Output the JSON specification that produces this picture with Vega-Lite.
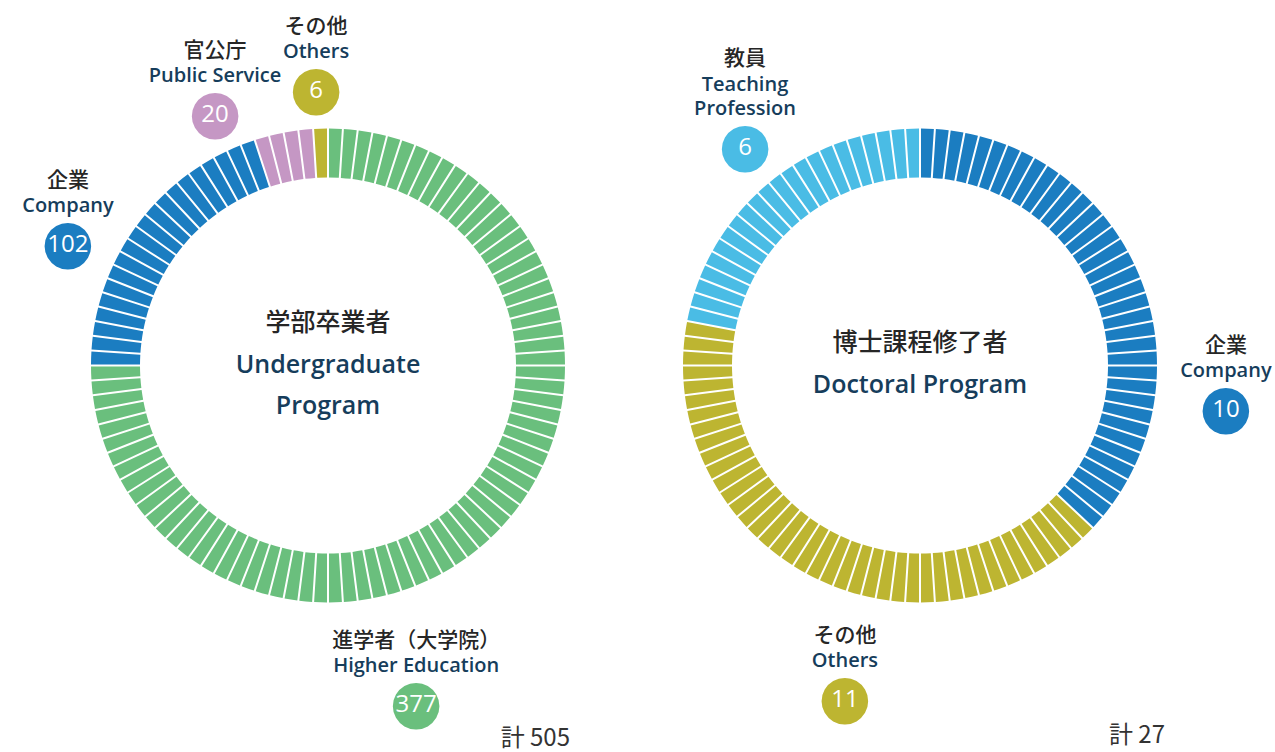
{
 "$schema": "https://vega.github.io/schema/vega-lite/v6.json",
 "padding": 0,
 "spacing": 0,
 "bounds": "flush",
 "background": "white",
 "config": {"view": {"stroke": null}, "font": "Open Sans"},
 "datasets": {
  "ug": [
   {"i":0,"c":"H","v":1},{"i":1,"c":"H","v":1},{"i":2,"c":"H","v":1},{"i":3,"c":"H","v":1},{"i":4,"c":"H","v":1},{"i":5,"c":"H","v":1},{"i":6,"c":"H","v":1},{"i":7,"c":"H","v":1},{"i":8,"c":"H","v":1},{"i":9,"c":"H","v":1},
   {"i":10,"c":"H","v":1},{"i":11,"c":"H","v":1},{"i":12,"c":"H","v":1},{"i":13,"c":"H","v":1},{"i":14,"c":"H","v":1},{"i":15,"c":"H","v":1},{"i":16,"c":"H","v":1},{"i":17,"c":"H","v":1},{"i":18,"c":"H","v":1},{"i":19,"c":"H","v":1},
   {"i":20,"c":"H","v":1},{"i":21,"c":"H","v":1},{"i":22,"c":"H","v":1},{"i":23,"c":"H","v":1},{"i":24,"c":"H","v":1},{"i":25,"c":"H","v":1},{"i":26,"c":"H","v":1},{"i":27,"c":"H","v":1},{"i":28,"c":"H","v":1},{"i":29,"c":"H","v":1},
   {"i":30,"c":"H","v":1},{"i":31,"c":"H","v":1},{"i":32,"c":"H","v":1},{"i":33,"c":"H","v":1},{"i":34,"c":"H","v":1},{"i":35,"c":"H","v":1},{"i":36,"c":"H","v":1},{"i":37,"c":"H","v":1},{"i":38,"c":"H","v":1},{"i":39,"c":"H","v":1},
   {"i":40,"c":"H","v":1},{"i":41,"c":"H","v":1},{"i":42,"c":"H","v":1},{"i":43,"c":"H","v":1},{"i":44,"c":"H","v":1},{"i":45,"c":"H","v":1},{"i":46,"c":"H","v":1},{"i":47,"c":"H","v":1},{"i":48,"c":"H","v":1},{"i":49,"c":"H","v":1},
   {"i":50,"c":"H","v":1},{"i":51,"c":"H","v":1},{"i":52,"c":"H","v":1},{"i":53,"c":"H","v":1},{"i":54,"c":"H","v":1},{"i":55,"c":"H","v":1},{"i":56,"c":"H","v":1},{"i":57,"c":"H","v":1},{"i":58,"c":"H","v":1},{"i":59,"c":"H","v":1},
   {"i":60,"c":"H","v":1},{"i":61,"c":"H","v":1},{"i":62,"c":"H","v":1},{"i":63,"c":"H","v":1},{"i":64,"c":"H","v":1},{"i":65,"c":"H","v":1},{"i":66,"c":"H","v":1},{"i":67,"c":"H","v":1},{"i":68,"c":"H","v":1},{"i":69,"c":"H","v":1},
   {"i":70,"c":"H","v":1},{"i":71,"c":"H","v":1},{"i":72,"c":"H","v":1},{"i":73,"c":"H","v":1},{"i":74,"c":"H","v":1},{"i":75,"c":"C","v":1},{"i":76,"c":"C","v":1},{"i":77,"c":"C","v":1},{"i":78,"c":"C","v":1},{"i":79,"c":"C","v":1},
   {"i":80,"c":"C","v":1},{"i":81,"c":"C","v":1},{"i":82,"c":"C","v":1},{"i":83,"c":"C","v":1},{"i":84,"c":"C","v":1},{"i":85,"c":"C","v":1},{"i":86,"c":"C","v":1},{"i":87,"c":"C","v":1},{"i":88,"c":"C","v":1},{"i":89,"c":"C","v":1},
   {"i":90,"c":"C","v":1},{"i":91,"c":"C","v":1},{"i":92,"c":"C","v":1},{"i":93,"c":"C","v":1},{"i":94,"c":"C","v":1},{"i":95,"c":"P","v":1},{"i":96,"c":"P","v":1},{"i":97,"c":"P","v":1},{"i":98,"c":"P","v":1},{"i":99,"c":"O","v":1}
  ],
  "dr": [
   {"i":0,"c":"C","v":1},{"i":1,"c":"C","v":1},{"i":2,"c":"C","v":1},{"i":3,"c":"C","v":1},{"i":4,"c":"C","v":1},{"i":5,"c":"C","v":1},{"i":6,"c":"C","v":1},{"i":7,"c":"C","v":1},{"i":8,"c":"C","v":1},{"i":9,"c":"C","v":1},
   {"i":10,"c":"C","v":1},{"i":11,"c":"C","v":1},{"i":12,"c":"C","v":1},{"i":13,"c":"C","v":1},{"i":14,"c":"C","v":1},{"i":15,"c":"C","v":1},{"i":16,"c":"C","v":1},{"i":17,"c":"C","v":1},{"i":18,"c":"C","v":1},{"i":19,"c":"C","v":1},
   {"i":20,"c":"C","v":1},{"i":21,"c":"C","v":1},{"i":22,"c":"C","v":1},{"i":23,"c":"C","v":1},{"i":24,"c":"C","v":1},{"i":25,"c":"C","v":1},{"i":26,"c":"C","v":1},{"i":27,"c":"C","v":1},{"i":28,"c":"C","v":1},{"i":29,"c":"C","v":1},
   {"i":30,"c":"C","v":1},{"i":31,"c":"C","v":1},{"i":32,"c":"C","v":1},{"i":33,"c":"C","v":1},{"i":34,"c":"C","v":1},{"i":35,"c":"C","v":1},{"i":36,"c":"C","v":1},{"i":37,"c":"O","v":1},{"i":38,"c":"O","v":1},{"i":39,"c":"O","v":1},
   {"i":40,"c":"O","v":1},{"i":41,"c":"O","v":1},{"i":42,"c":"O","v":1},{"i":43,"c":"O","v":1},{"i":44,"c":"O","v":1},{"i":45,"c":"O","v":1},{"i":46,"c":"O","v":1},{"i":47,"c":"O","v":1},{"i":48,"c":"O","v":1},{"i":49,"c":"O","v":1},
   {"i":50,"c":"O","v":1},{"i":51,"c":"O","v":1},{"i":52,"c":"O","v":1},{"i":53,"c":"O","v":1},{"i":54,"c":"O","v":1},{"i":55,"c":"O","v":1},{"i":56,"c":"O","v":1},{"i":57,"c":"O","v":1},{"i":58,"c":"O","v":1},{"i":59,"c":"O","v":1},
   {"i":60,"c":"O","v":1},{"i":61,"c":"O","v":1},{"i":62,"c":"O","v":1},{"i":63,"c":"O","v":1},{"i":64,"c":"O","v":1},{"i":65,"c":"O","v":1},{"i":66,"c":"O","v":1},{"i":67,"c":"O","v":1},{"i":68,"c":"O","v":1},{"i":69,"c":"O","v":1},
   {"i":70,"c":"O","v":1},{"i":71,"c":"O","v":1},{"i":72,"c":"O","v":1},{"i":73,"c":"O","v":1},{"i":74,"c":"O","v":1},{"i":75,"c":"O","v":1},{"i":76,"c":"O","v":1},{"i":77,"c":"O","v":1},{"i":78,"c":"T","v":1},{"i":79,"c":"T","v":1},
   {"i":80,"c":"T","v":1},{"i":81,"c":"T","v":1},{"i":82,"c":"T","v":1},{"i":83,"c":"T","v":1},{"i":84,"c":"T","v":1},{"i":85,"c":"T","v":1},{"i":86,"c":"T","v":1},{"i":87,"c":"T","v":1},{"i":88,"c":"T","v":1},{"i":89,"c":"T","v":1},
   {"i":90,"c":"T","v":1},{"i":91,"c":"T","v":1},{"i":92,"c":"T","v":1},{"i":93,"c":"T","v":1},{"i":94,"c":"T","v":1},{"i":95,"c":"T","v":1},{"i":96,"c":"T","v":1},{"i":97,"c":"T","v":1},{"i":98,"c":"T","v":1},{"i":99,"c":"T","v":1}
  ],
  "ugl": [
   {"c":"H","jp":"進学者（大学院）","e2":"Higher Education","n":377,"t":45.94,"r":1.474},
   {"c":"C","jp":"企業","e2":"Company","n":102,"t":81.98,"r":1.212},
   {"c":"P","jp":"官公庁","e2":"Public Service","n":20,"t":93.29,"r":1.165},
   {"c":"O","jp":"その他","e2":"Others","n":6,"t":99.31,"r":1.162}
  ],
  "drl": [
   {"c":"C","jp":"企業","e2":"Company","n":10,"t":27.27,"r":1.304},
   {"c":"O","jp":"その他","e2":"Others","n":11,"t":53.52,"r":1.444},
   {"c":"T","jp":"教員","e1":"Teaching","e2":"Profession","n":6,"t":89.24,"r":1.18}
  ]
 },
 "hconcat": [
  {
   "width": 656, "height": 731,
   "title": {"text": "計 505", "orient": "bottom", "anchor": "end", "frame": "group", "dx": -86, "offset": -7, "fontSize": 24, "font": "Noto Sans CJK JP", "fontWeight": "normal", "color": "#333333"},
   "layer": [
    {"data": {"name": "ug"},
     "mark": {"type": "arc", "innerRadius": 188, "outerRadius": 237, "padAngle": 0.0066},
     "encoding": {
      "theta": {"field": "v", "type": "quantitative", "stack": true, "scale": {"domain": [0, 100]}},
      "order": {"field": "i", "type": "quantitative"},
      "detail": {"field": "i", "type": "nominal"},
      "color": {"field": "c", "type": "nominal", "scale": {"domain": ["H","C","P","O","T"], "range": ["#6abf7d","#1b7dc1","#c597c4","#bdb531","#4abce5"]}, "legend": null}
     }},
    {"data": {"name": "ugl"},
     "mark": {"type": "text", "text": "●", "font": "DejaVu Sans", "fontSize": 61, "baseline": "middle", "align": "center", "dy": 0},
     "encoding": {
      "theta": {"field": "t", "type": "quantitative", "stack": null, "scale": {"domain": [0, 100]}},
      "radius": {"field": "r", "type": "quantitative", "scale": {"type": "linear", "domain": [0, 1], "range": [0, 237], "zero": true}},
      "color": {"field": "c", "type": "nominal", "legend": null}
     }},
    {"data": {"name": "ugl"},
     "mark": {"type": "text", "font": "Open Sans", "fontSize": 24, "fill": "white", "baseline": "middle", "align": "center", "dy": 1},
     "encoding": {
      "theta": {"field": "t", "type": "quantitative", "stack": null, "scale": {"domain": [0, 100]}},
      "radius": {"field": "r", "type": "quantitative", "scale": {"type": "linear", "domain": [0, 1], "range": [0, 237], "zero": true}},
      "text": {"field": "n", "type": "quantitative"}
     }},
    {"data": {"name": "ugl"},
     "mark": {"type": "text", "font": "Open Sans", "fontWeight": 600, "fontSize": 20, "fill": "#163d5b", "baseline": "middle", "align": "center", "dy": -38},
     "encoding": {
      "theta": {"field": "t", "type": "quantitative", "stack": null, "scale": {"domain": [0, 100]}},
      "radius": {"field": "r", "type": "quantitative", "scale": {"type": "linear", "domain": [0, 1], "range": [0, 237], "zero": true}},
      "text": {"field": "e2", "type": "nominal"}
     }},
    {"data": {"name": "ugl"},
     "mark": {"type": "text", "font": "Noto Sans CJK JP", "fontWeight": 500, "fontSize": 21, "fill": "#262626", "baseline": "middle", "align": "center", "dy": -63},
     "encoding": {
      "theta": {"field": "t", "type": "quantitative", "stack": null, "scale": {"domain": [0, 100]}},
      "radius": {"field": "r", "type": "quantitative", "scale": {"type": "linear", "domain": [0, 1], "range": [0, 237], "zero": true}},
      "text": {"field": "jp", "type": "nominal"}
     }},
    {"data": {"values": [{}]},
     "mark": {"type": "text", "text": "学部卒業者", "font": "Noto Sans CJK JP", "fontWeight": 500, "fontSize": 25, "fill": "#262626", "baseline": "middle", "align": "center", "dy": -43},
     "encoding": {}},
    {"data": {"values": [{}]},
     "mark": {"type": "text", "text": "Undergraduate", "font": "Open Sans", "fontWeight": 600, "fontSize": 25, "fill": "#163d5b", "baseline": "middle", "align": "center", "dy": -1},
     "encoding": {}},
    {"data": {"values": [{}]},
     "mark": {"type": "text", "text": "Program", "font": "Open Sans", "fontWeight": 600, "fontSize": 25, "fill": "#163d5b", "baseline": "middle", "align": "center", "dy": 40},
     "encoding": {}}
   ]
  },
  {
   "width": 528, "height": 731,
   "title": {"text": "計 27", "orient": "bottom", "anchor": "end", "frame": "group", "dx": -19, "offset": -7, "fontSize": 24, "font": "Noto Sans CJK JP", "fontWeight": "normal", "color": "#333333"},
   "layer": [
    {"data": {"name": "dr"},
     "mark": {"type": "arc", "innerRadius": 188, "outerRadius": 237, "padAngle": 0.0066},
     "encoding": {
      "theta": {"field": "v", "type": "quantitative", "stack": true, "scale": {"domain": [0, 100]}},
      "order": {"field": "i", "type": "quantitative"},
      "detail": {"field": "i", "type": "nominal"},
      "color": {"field": "c", "type": "nominal", "scale": {"domain": ["H","C","P","O","T"], "range": ["#6abf7d","#1b7dc1","#c597c4","#bdb531","#4abce5"]}, "legend": null}
     }},
    {"data": {"name": "drl"},
     "mark": {"type": "text", "text": "●", "font": "DejaVu Sans", "fontSize": 61, "baseline": "middle", "align": "center", "dy": 0},
     "encoding": {
      "theta": {"field": "t", "type": "quantitative", "stack": null, "scale": {"domain": [0, 100]}},
      "radius": {"field": "r", "type": "quantitative", "scale": {"type": "linear", "domain": [0, 1], "range": [0, 237], "zero": true}},
      "color": {"field": "c", "type": "nominal", "legend": null}
     }},
    {"data": {"name": "drl"},
     "mark": {"type": "text", "font": "Open Sans", "fontSize": 24, "fill": "white", "baseline": "middle", "align": "center", "dy": 1},
     "encoding": {
      "theta": {"field": "t", "type": "quantitative", "stack": null, "scale": {"domain": [0, 100]}},
      "radius": {"field": "r", "type": "quantitative", "scale": {"type": "linear", "domain": [0, 1], "range": [0, 237], "zero": true}},
      "text": {"field": "n", "type": "quantitative"}
     }},
    {"data": {"name": "drl"},
     "mark": {"type": "text", "font": "Open Sans", "fontWeight": 600, "fontSize": 20, "fill": "#163d5b", "baseline": "middle", "align": "center", "dy": -38},
     "encoding": {
      "theta": {"field": "t", "type": "quantitative", "stack": null, "scale": {"domain": [0, 100]}},
      "radius": {"field": "r", "type": "quantitative", "scale": {"type": "linear", "domain": [0, 1], "range": [0, 237], "zero": true}},
      "text": {"field": "e2", "type": "nominal"}
     }},
    {"data": {"name": "drl"},
     "transform": [{"filter": "isValid(datum.e1)"}],
     "mark": {"type": "text", "font": "Open Sans", "fontWeight": 600, "fontSize": 20, "fill": "#163d5b", "baseline": "middle", "align": "center", "dy": -62},
     "encoding": {
      "theta": {"field": "t", "type": "quantitative", "stack": null, "scale": {"domain": [0, 100]}},
      "radius": {"field": "r", "type": "quantitative", "scale": {"type": "linear", "domain": [0, 1], "range": [0, 237], "zero": true}},
      "text": {"field": "e1", "type": "nominal"}
     }},
    {"data": {"name": "drl"},
     "transform": [{"filter": "!isValid(datum.e1)"}],
     "mark": {"type": "text", "font": "Noto Sans CJK JP", "fontWeight": 500, "fontSize": 21, "fill": "#262626", "baseline": "middle", "align": "center", "dy": -63},
     "encoding": {
      "theta": {"field": "t", "type": "quantitative", "stack": null, "scale": {"domain": [0, 100]}},
      "radius": {"field": "r", "type": "quantitative", "scale": {"type": "linear", "domain": [0, 1], "range": [0, 237], "zero": true}},
      "text": {"field": "jp", "type": "nominal"}
     }},
    {"data": {"name": "drl"},
     "transform": [{"filter": "isValid(datum.e1)"}],
     "mark": {"type": "text", "font": "Noto Sans CJK JP", "fontWeight": 500, "fontSize": 21, "fill": "#262626", "baseline": "middle", "align": "center", "dy": -88},
     "encoding": {
      "theta": {"field": "t", "type": "quantitative", "stack": null, "scale": {"domain": [0, 100]}},
      "radius": {"field": "r", "type": "quantitative", "scale": {"type": "linear", "domain": [0, 1], "range": [0, 237], "zero": true}},
      "text": {"field": "jp", "type": "nominal"}
     }},
    {"data": {"values": [{}]},
     "mark": {"type": "text", "text": "博士課程修了者", "font": "Noto Sans CJK JP", "fontWeight": 500, "fontSize": 25, "fill": "#262626", "baseline": "middle", "align": "center", "dy": -23},
     "encoding": {}},
    {"data": {"values": [{}]},
     "mark": {"type": "text", "text": "Doctoral Program", "font": "Open Sans", "fontWeight": 600, "fontSize": 25, "fill": "#163d5b", "baseline": "middle", "align": "center", "dy": 19},
     "encoding": {}}
   ]
  }
 ]
}
